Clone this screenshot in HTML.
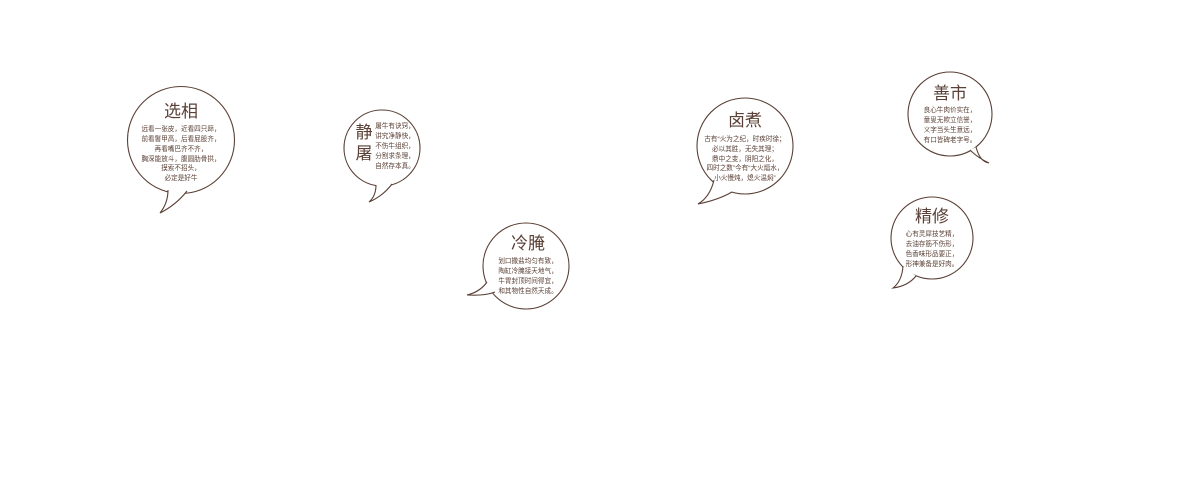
<!DOCTYPE html>
<html><head><meta charset="utf-8"><style>
html,body{margin:0;padding:0;background:#fff;width:1200px;height:482px;overflow:hidden}
svg text{font-family:"Liberation Sans","Noto Sans CJK SC",sans-serif;fill:#5a4036}
.t{font-size:17px}
.b{font-size:6.6px}
</style></head><body>
<svg width="1200" height="482" viewBox="0 0 1200 482" xmlns="http://www.w3.org/2000/svg">
<g fill="#fff" stroke="#5a4036" stroke-width="1.1">
<circle cx="181" cy="140" r="53.5"/>
<path d="M168,190 Q168,203 160,213 Q176,205 187,191"/>
<circle cx="382" cy="148" r="38"/>
<path d="M376,185 Q376,196 369,202 Q383,196 392,184"/>
<circle cx="526" cy="266" r="43"/>
<path d="M487,282 Q480,292 467,295 Q485,296 495,292"/>
<circle cx="745" cy="146" r="48"/>
<path d="M714,180 Q710,197 698,204 Q718,200 732,192"/>
<circle cx="950" cy="114" r="42"/>
<path d="M970,150 Q978,158 989,163 Q980,162 976,147"/>
<circle cx="932" cy="238" r="41"/>
<path d="M903,266 Q902,281 893,288 Q908,286 916,276"/>
</g>
<g text-anchor="middle">
<text class="t" x="181" y="117">选相</text>
<text class="b" x="181" y="131">远看一张皮，近看四只蹄，</text>
<text class="b" x="181" y="141">前看鬐甲高，后看屁股齐，</text>
<text class="b" x="181" y="151">再看嘴巴齐不齐，</text>
<text class="b" x="181" y="161">胸深能放斗，腹圆肋骨拱，</text>
<text class="b" x="181" y="170">摸索不招头，</text>
<text class="b" x="181" y="180">必定是好牛</text>

<text class="t" x="364" y="138">静</text>
<text class="t" x="364" y="159">屠</text>
<text class="b" x="395" y="128">屠牛有诀窍，</text>
<text class="b" x="395" y="138">讲究净静快，</text>
<text class="b" x="395" y="148">不伤牛组织，</text>
<text class="b" x="395" y="158">分割求条理，</text>
<text class="b" x="395" y="168">自然存本真。</text>

<text class="t" x="528" y="249">冷腌</text>
<text class="b" x="528" y="263">划口撒盐均匀有致，</text>
<text class="b" x="528" y="273">陶缸冷腌接天地气，</text>
<text class="b" x="528" y="283">牛胃封顶时间得宜，</text>
<text class="b" x="528" y="293">和其物性自然天成。</text>

<text class="t" x="745" y="126">卤煮</text>
<text class="b" x="745" y="141">古有“火为之纪，时疾时徐；</text>
<text class="b" x="745" y="151">必以其胜，无失其理；</text>
<text class="b" x="745" y="161">鼎中之变，阴阳之化，</text>
<text class="b" x="745" y="170">四时之数”今有“大火煏水，</text>
<text class="b" x="745" y="180">小火慢炖，熄火温焖”</text>

<text class="t" x="950" y="99">善市</text>
<text class="b" x="950" y="112">良心牛肉价实在，</text>
<text class="b" x="950" y="122">童叟无欺立信誉，</text>
<text class="b" x="950" y="132">义字当头生意远，</text>
<text class="b" x="950" y="142">有口皆碑老字号。</text>

<text class="t" x="932" y="222">精修</text>
<text class="b" x="932" y="236">心有灵犀技艺精，</text>
<text class="b" x="932" y="246">去油存筋不伤形，</text>
<text class="b" x="932" y="256">色香味形品要正，</text>
<text class="b" x="932" y="266">形神兼备是好肉。</text>
</g>
</svg>
</body></html>
